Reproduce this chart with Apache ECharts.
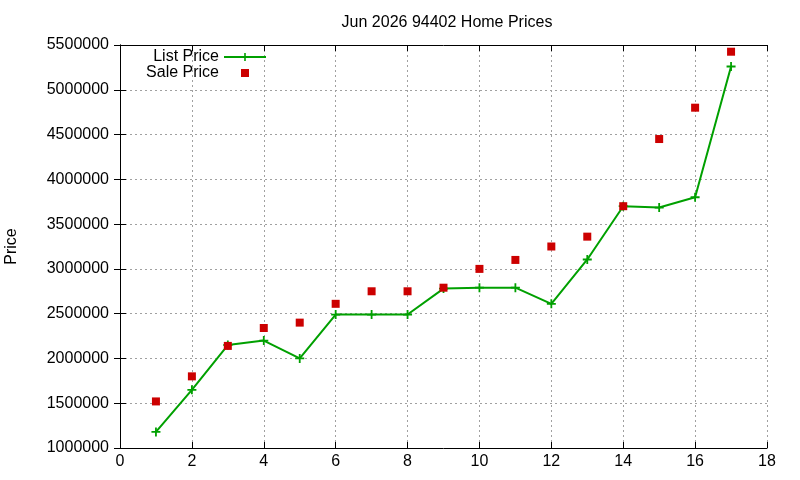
<!DOCTYPE html>
<html>
<head>
<meta charset="utf-8">
<script src="https://cdn.jsdelivr.net/npm/echarts@6/dist/echarts.min.js"></script>
<style>
  html, body { margin: 0; padding: 0; background: #fff; }
  #chart { width: 800px; height: 480px; }
</style>
</head>
<body>
<div id="chart"></div>
<script>
// month index 1..17
const months = [1, 2, 3, 4, 5, 6, 7, 8, 9, 10, 11, 12, 13, 14, 15, 16, 17];
const listPrice = [1180000, 1650000, 2150000, 2200000, 2000000, 2490000, 2490000, 2490000,
  2780000, 2790000, 2790000, 2610000, 3105000, 3700000, 3685000, 3800000, 5260000];
const salePrice = [1520000, 1800000, 2140000, 2340000, 2400000, 2610000, 2750000, 2750000,
  2790000, 3000000, 3100000, 3250000, 3360000, 3700000, 4450000, 4800000, 5425000];

const font = "Liberation Sans, Arial, sans-serif";
const plusIcon = "path://M4,0h2v4h4v2h-4v4h-2v-4h-4v-2h4z";

const gridLine = { show: true, lineStyle: { color: "#a0a0a0", type: [2, 3], width: 1 } };
const blackLine = { show: true, lineStyle: { color: "#000", width: 1 } };
const tick = { show: true, inside: true, length: 6, lineStyle: { color: "#000" } };
const legendText = { fontSize: 16, color: "#000", fontFamily: font };

const chart = echarts.init(document.getElementById("chart"));
chart.setOption({
  animation: false,
  backgroundColor: "#fff",
  textStyle: { fontFamily: font },
  title: {
    text: "Jun 2026 94402 Home Prices",
    left: 442,
    textAlign: "center",
    top: 10,
    textStyle: { fontSize: 16, fontWeight: "normal", color: "#000", fontFamily: font },
  },
  legend: [
    {
      data: ["List Price"],
      right: 528,
      top: 44,
      align: "right",
      itemWidth: 42,
      itemHeight: 10,
      textStyle: legendText,
    },
    {
      data: [{ name: "Sale Price", lineStyle: { opacity: 0 } }],
      right: 528,
      top: 60,
      align: "right",
      itemWidth: 42,
      itemHeight: 10,
      textStyle: legendText,
    },
  ],
  grid: { left: 120, right: 33, top: 45, bottom: 32, outerBoundsMode: "none", containLabel: false },
  xAxis: [
    {
      type: "value",
      min: 0,
      max: 18,
      interval: 2,
      position: "bottom",
      axisLine: blackLine,
      axisTick: tick,
      axisLabel: { color: "#000", fontSize: 16, margin: 6, fontFamily: font },
      splitLine: gridLine,
    },
    {
      type: "value",
      min: 0,
      max: 18,
      interval: 2,
      position: "top",
      axisLine: blackLine,
      axisTick: tick,
      axisLabel: { show: false },
      splitLine: { show: false },
    },
  ],
  yAxis: [
    {
      type: "value",
      min: 1000000,
      max: 5500000,
      interval: 500000,
      position: "left",
      name: "Price",
      nameLocation: "middle",
      nameGap: 100,
      nameTextStyle: { fontSize: 16, color: "#000", fontFamily: font },
      axisLine: blackLine,
      axisTick: tick,
      axisLabel: { color: "#000", fontSize: 16, margin: 11, fontFamily: font, formatter: (v) => String(v) },
      splitLine: gridLine,
    },
    {
      type: "value",
      min: 1000000,
      max: 5500000,
      interval: 500000,
      position: "right",
      axisLine: blackLine,
      axisTick: tick,
      axisLabel: { show: false },
      splitLine: { show: false },
    },
  ],
  series: [
    {
      name: "List Price",
      type: "line",
      data: months.map((m, i) => [m, listPrice[i]]),
      color: "#00a000",
      lineStyle: { width: 2 },
      symbol: plusIcon,
      symbolSize: 9,
      showAllSymbol: true,
    },
    {
      name: "Sale Price",
      type: "line",
      data: months.map((m, i) => [m, salePrice[i]]),
      color: "#cc0000",
      lineStyle: { opacity: 0 },
      symbol: "rect",
      symbolSize: 8,
      showAllSymbol: true,
    },
  ],
});
</script>
</body>
</html>
